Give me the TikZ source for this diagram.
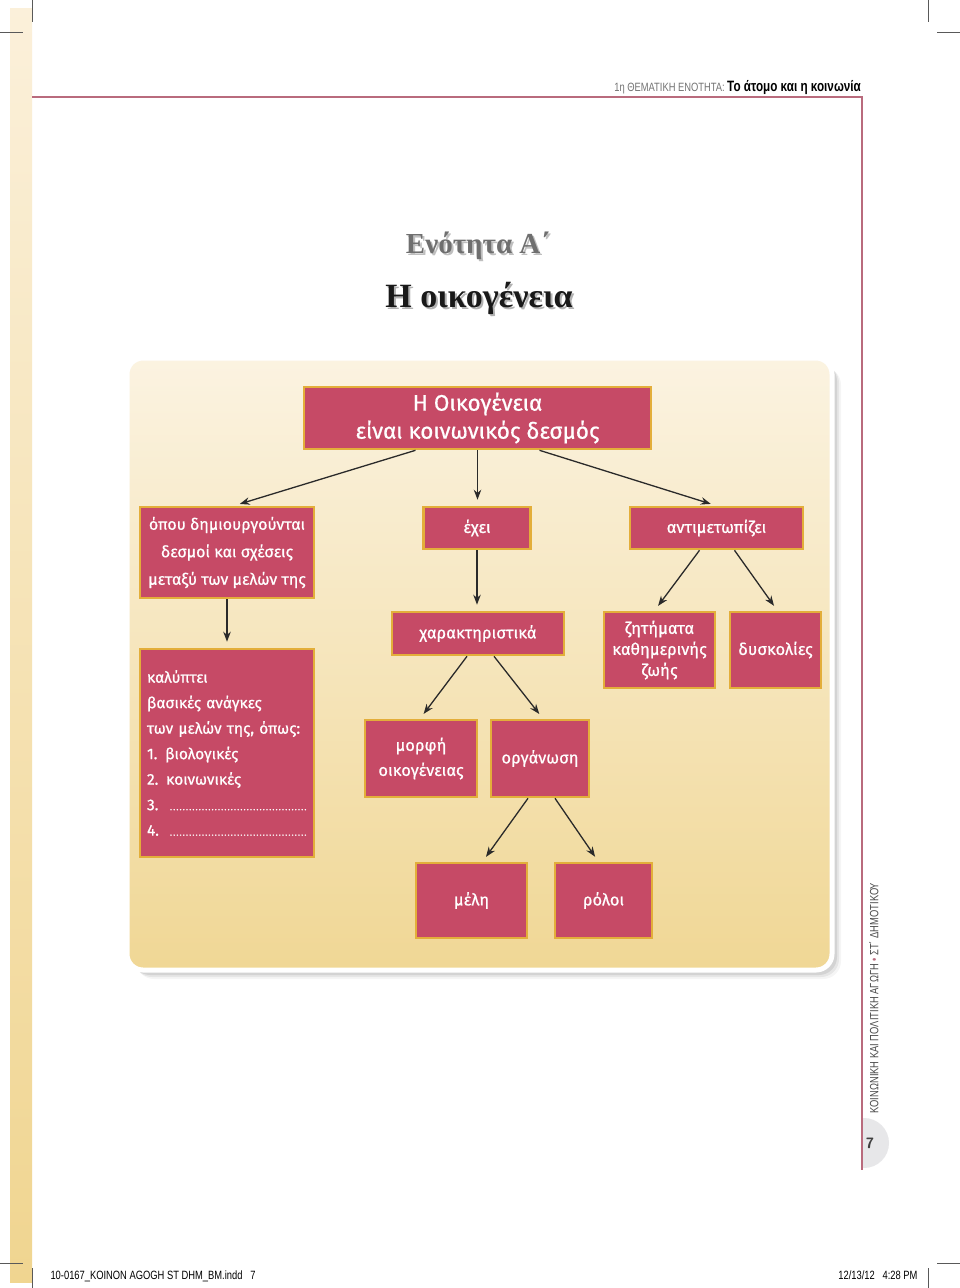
\documentclass[tikz,border=0pt]{standalone}
\usepackage{fontspec}
\setmainfont{Liberation Serif}
\newfontfamily\handfont[FakeBold=0.7]{Fira Sans}
\newfontfamily\narrowfont[FakeStretch=0.78]{Liberation Sans}
\usetikzlibrary{arrows.meta}
\definecolor{BoxRed}{HTML}{C64A66}
\definecolor{BoxGold}{HTML}{E3AE3A}
\definecolor{PanelTop}{HTML}{FBF3E1}
\definecolor{PanelBot}{HTML}{F0D795}
\definecolor{StripTop}{HTML}{FBF0DA}
\definecolor{StripBot}{HTML}{F0D590}
\definecolor{FrameRed}{HTML}{B96B7D}
\definecolor{TitleGray}{HTML}{6F6F6F}
\definecolor{ArrowInk}{HTML}{2A2A2A}
\definecolor{PageGray}{HTML}{E7E7E9}
\newcommand{\dotrow}{{\fontsize{9}{9}\selectfont\leaders\hbox to 3.2pt{\hss.\hss}\hfill}\null}

\begin{document}
\begin{tikzpicture}[x=1pt,y=-1pt,
  box/.style={draw=BoxGold, fill=BoxRed, line width=2.6pt, text=white,
    align=center, inner sep=3pt, font=\handfont\fontsize{16.5}{26}\selectfont},
  arr/.style={-{Stealth[length=10pt,width=7.5pt]}, line width=1.3pt, ArrowInk, shorten >=6pt},
  crop/.style={black!65, line width=0.6pt},
  margin/.style={text=black!70, font=\narrowfont\fontsize{12}{14}\selectfont}]
  \useasboundingbox (0,0) rectangle (960,1288);
  \fill[white] (0,0) rectangle (960,1288);

  % page frame
  \shade[top color=StripTop, bottom color=StripBot] (10,8) rectangle (32,1282);
  \draw[crop] (32,0) -- (32,22) (0,32) -- (23,32) (928,0) -- (928,22) (937,32) -- (960,32);
  \draw[crop] (0,1263) -- (23,1263) (32,1268) -- (32,1288) (937,1263) -- (960,1263) (928,1268) -- (928,1288);
  \begin{scope}
    \clip (862,1100) rectangle (900,1180);
    \fill[PageGray] (864,1143) circle (25);
  \end{scope}
  \draw[FrameRed, line width=1.6pt] (32,97) -- (862,97) -- (862,1170);
  \node[anchor=base east, inner sep=0pt] (header) at (861,91)
    {{\color{black!55}\narrowfont\fontsize{12}{14}\selectfont 1η ΘΕΜΑΤΙΚΗ ΕΝΟΤΗΤΑ:}
     {\narrowfont\bfseries\fontsize{15}{17}\selectfont Το άτομο και η κοινωνία}};
  \node[margin, rotate=90] (series) at (874,998)
    {ΚΟΙΝΩΝΙΚΗ ΚΑΙ ΠΟΛΙΤΙΚΗ ΑΓΩΓΗ {\color{FrameRed}•} ΣΤ΄ ΔΗΜΟΤΙΚΟΥ};
  \node[font=\sffamily\bfseries\fontsize{15}{17}\selectfont, text=black!75] (pageno) at (870,1143) {7};
  \node[margin, anchor=base west, text=black] (slug) at (47,1279) {10-0167\_KOINON AGOGH ST DHM\_BM.indd \ \ 7};
  \node[margin, anchor=base east, text=black] (stamp) at (921,1279) {12/13/12 \ \ 4:28 PM};

  % titles
  \node[font=\bfseries\fontsize{29}{32}\selectfont, text=black!25] at (480,248) {Ενότητα Α΄};
  \node[font=\bfseries\fontsize{29}{32}\selectfont, text=TitleGray] (unit) at (478,246) {Ενότητα Α΄};
  \node[font=\bfseries\fontsize{34}{38}\selectfont, text=black!30] at (481,300) {Η οικογένεια};
  \node[font=\bfseries\fontsize{34}{38}\selectfont, text=black!90] (title) at (479,298) {Η οικογένεια};

  % panel
  \foreach \s/\o in {9/0.04,7/0.06,5/0.08}
    \fill[black, opacity=\o, rounded corners=18pt] (127+\s,358+\s) rectangle (832+\s,970+\s);
  \shadedraw[top color=PanelTop, bottom color=PanelBot, draw=white, line width=5pt,
    rounded corners=16pt] (127,358) rectangle (832,970);

  % boxes
  \node[box, minimum width=347pt, minimum height=62pt, font=\handfont\fontsize{22.5}{28}\selectfont]
    (family) at (477.5,418) {Η Οικογένεια\\είναι κοινωνικός δεσμός};
  \node[box, minimum width=174pt, minimum height=91pt, font=\handfont\fontsize{16}{27.5}\selectfont]
    (bonds) at (227,552.5) {όπου δημιουργούνται\\δεσμοί και σχέσεις\\μεταξύ των μελών της};
  \node[box, minimum width=107pt, minimum height=42pt] (has) at (477,528) {έχει};
  \node[box, minimum width=173pt, minimum height=42pt] (faces) at (716.5,528) {αντιμετωπίζει};
  \node[box, minimum width=174pt, minimum height=208pt, align=left, text width=160pt,
    font=\handfont\fontsize{15.5}{25.5}\selectfont]
    (needs) at (227,753) {καλύπτει\\βασικές ανάγκες\\των μελών της, όπως:\\1. βιολογικές\\2. κοινωνικές\\3. \dotrow\\4. \dotrow};
  \node[box, minimum width=172pt, minimum height=43pt] (traits) at (478,633.5) {χαρακτηριστικά};
  \node[box, minimum width=111pt, minimum height=76pt, font=\handfont\fontsize{16.5}{21}\selectfont]
    (issues) at (659.5,650) {ζητήματα\\καθημερινής\\ζωής};
  \node[box, minimum width=91pt, minimum height=76pt] (troubles) at (775.5,650) {δυσκολίες};
  \node[box, minimum width=112pt, minimum height=77pt, font=\handfont\fontsize{16.5}{25}\selectfont]
    (form) at (421,758.5) {μορφή\\οικογένειας};
  \node[box, minimum width=98pt, minimum height=77pt] (organ) at (540,758.5) {οργάνωση};
  \node[box, minimum width=111pt, minimum height=75pt] (members) at (471.5,900.5) {μέλη};
  \node[box, minimum width=97pt, minimum height=75pt] (roles) at (603.5,900.5) {ρόλοι};

  % arrows
  \draw[arr] ([xshift=-62pt]family.south) -- ([xshift=7pt]bonds.north);
  \draw[arr] (family.south) -- (family.south |- has.north);
  \draw[arr] ([xshift=62pt]family.south) -- (faces.north);
  \draw[arr] (has.south) -- (has.south |- traits.north);
  \draw[arr] (bonds.south) -- (needs.north);
  \draw[arr] ([xshift=-17pt]faces.south) -- ([xshift=-5pt]issues.north);
  \draw[arr] ([xshift=18pt]faces.south) -- ([xshift=2pt]troubles.north);
  \draw[arr] ([xshift=-11pt]traits.south) -- ([xshift=-1pt]form.north);
  \draw[arr] ([xshift=16pt]traits.south) -- ([xshift=3pt]organ.north);
  \draw[arr] ([xshift=-12pt]organ.south) -- ([xshift=11pt]members.north);
  \draw[arr] ([xshift=15pt]organ.south) -- ([xshift=-5pt]roles.north);
\end{tikzpicture}
\end{document}
